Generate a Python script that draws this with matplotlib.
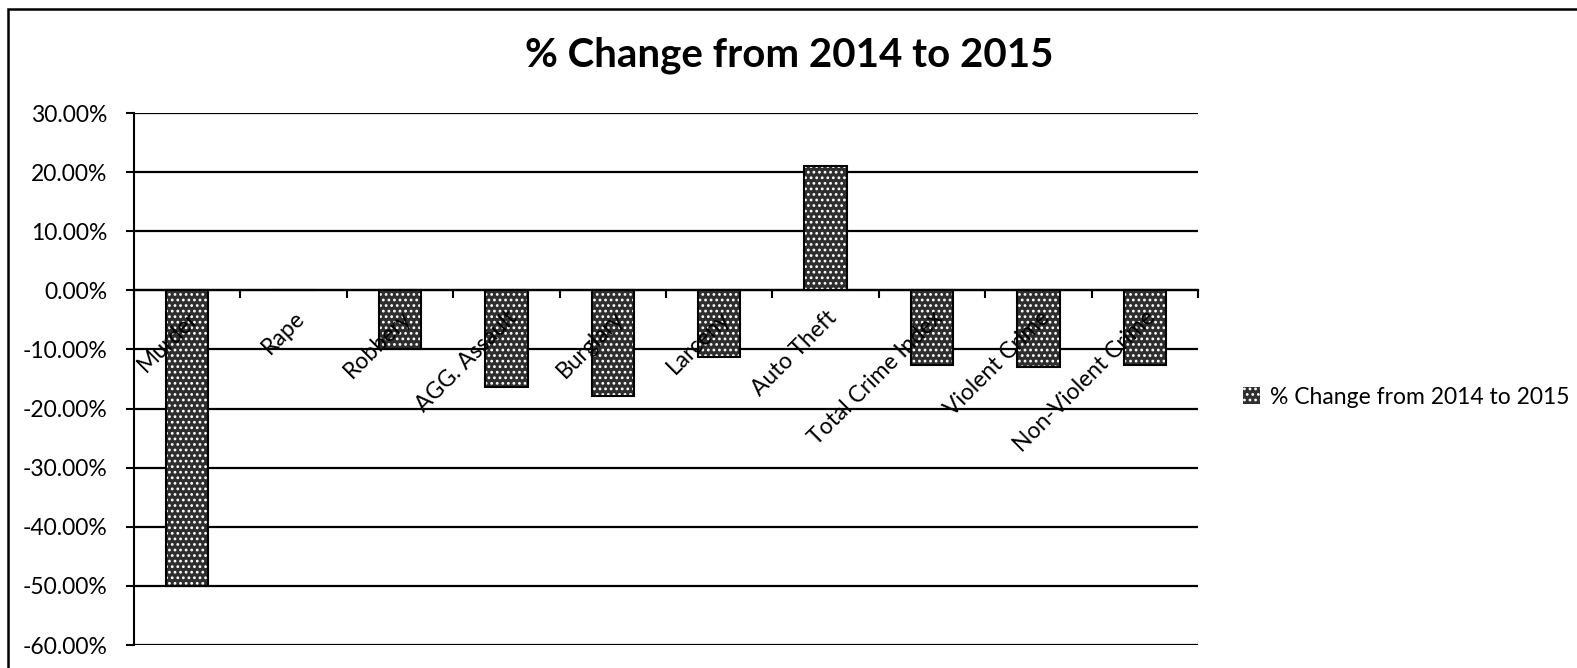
import matplotlib
matplotlib.use("Agg")
import matplotlib.pyplot as plt
from matplotlib.patches import Rectangle
from matplotlib.ticker import FixedLocator, PercentFormatter
import matplotlib.transforms as mtransforms

categories = ["Murder", "Rape", "Robbery", "AGG. Assault", "Burglary", "Larceny",
              "Auto Theft", "Total Crime Index", "Violent Crime", "Non-Violent Crime"]
pct_change = [-50.0, 0.0, -10.0, -16.3, -17.8, -11.2, 21.0, -12.6, -12.9, -12.6]
series_name = "% Change from 2014 to 2015"
y_ticks = [30, 20, 10, 0, -10, -20, -30, -40, -50, -60]

plt.rcParams['font.family'] = ['Lato', 'DejaVu Sans']
plt.rcParams['hatch.linewidth'] = 1.2
plt.rcParams['axes.unicode_minus'] = False

fig = plt.figure(figsize=(15.77, 6.68), dpi=100)
ax = fig.add_axes([134/1577, 1-645/668, (1198-134)/1577, (645-113)/668])

x = list(range(len(categories)))
ax.bar(x, pct_change, width=0.4, facecolor='#2e2e2e', edgecolor='white',
       hatch='...', linewidth=0, zorder=3, label=series_name)
ax.bar(x, pct_change, width=0.4, fill=False, edgecolor='black', linewidth=1.5, zorder=4)

ax.set_xlim(-0.5, len(categories) - 0.5)
ax.set_ylim(-60, 30)
ax.set_axisbelow(True)

ax.yaxis.set_major_locator(FixedLocator(y_ticks))
ax.yaxis.set_major_formatter(PercentFormatter(decimals=2))
ax.yaxis.grid(True, color='black', linewidth=1.6)
ax.tick_params(axis='y', length=6, width=1.5, direction='out', labelsize=16.5, pad=13)

for s in ['top', 'right']:
    ax.spines[s].set_visible(False)
ax.spines['left'].set_linewidth(1.5)
ax.spines['bottom'].set_position(('data', 0))
ax.spines['bottom'].set_linewidth(1.6)

ax.set_xticks(x)
ax.set_xticklabels(categories, rotation=45, ha='right', rotation_mode='anchor', fontsize=16.5)
ax.tick_params(axis='x', which='major', length=0, pad=12)
ax.set_xticks([i - 0.5 for i in range(len(categories) + 1)], minor=True)
ax.tick_params(axis='x', which='minor', length=6, width=1.5, direction='out')
for lbl in ax.get_xticklabels():
    lbl.set_transform(lbl.get_transform() + mtransforms.ScaledTranslation(0.0, 0.0, fig.dpi_scale_trans))
ax.xaxis.set_zorder(5)

fig.text(789/1577, 1-55/668, series_name, ha='center', va='center', fontsize=29, fontweight='bold')

leg = fig.legend(loc='center left', bbox_to_anchor=(1222/1577, 1-397/668), frameon=False,
                 fontsize=16.5, handlelength=0.75, handleheight=0.75, handletextpad=0.45)

fig.patches.append(Rectangle((8/1577, -0.1), 1.2, 1 - 9/668 + 0.1, transform=fig.transFigure,
                             fill=False, edgecolor='black', linewidth=1.8))

fig.savefig("out.png", dpi=100)
